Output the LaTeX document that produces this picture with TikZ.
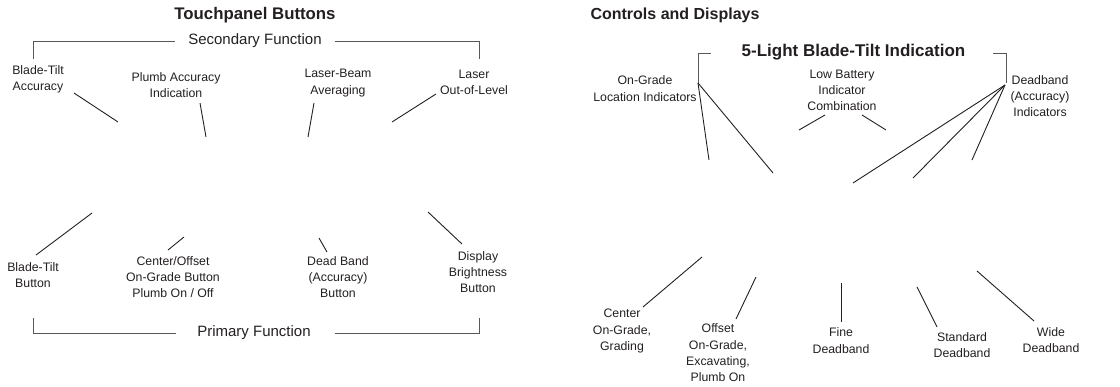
\documentclass[tikz,border=0pt]{standalone}
\usepackage{fontspec}
\setmainfont{Liberation Sans}
\definecolor{ink}{HTML}{231F20}
\begin{document}
\begin{tikzpicture}[x=1pt,y=-1pt,
  lbl/.style={font=\fontsize{12.3}{16.3}\selectfont, align=center, inner sep=0pt, text=ink},
  hdr/.style={font=\fontsize{16}{19}\selectfont\bfseries, inner sep=0pt, text=ink},
  tphdr/.style={font=\fontsize{16.8}{19}\selectfont\bfseries, inner sep=0pt, text=ink},
  bighdr/.style={font=\fontsize{17}{20}\selectfont\bfseries, inner sep=0pt, text=ink},
  fn/.style={font=\fontsize{15}{18}\selectfont, inner sep=0pt, text=ink},
  ln/.style={draw=ink, line width=0.9pt},
  br/.style={draw=ink!75, line width=1pt}]
\useasboundingbox (0,0) rectangle (1120,386);

% ---------- Left: Touchpanel Buttons ----------
\node[tphdr] (tpb) at (255,15) {Touchpanel Buttons};
\node[fn] (sec) at (255,41) {Secondary Function};
\coordinate (secL) at (33,59);
\coordinate (secR) at (479,59);
\draw[br] (secL) -- (secL |- sec) -- ([xshift=-13pt]sec.west);
\draw[br] ([xshift=13pt]sec.east) -- (secR |- sec) -- (secR);

\node[lbl] (btacc) at (38,79) {Blade-Tilt\\Accuracy};
\coordinate (btaccA) at (74,93); \coordinate (btaccB) at (118,122);
\draw[ln] (btaccA) -- (btaccB);

\node[lbl] (pai) at (176,85) {Plumb Accuracy\\Indication};
\coordinate (paiA) at (200,103); \coordinate (paiB) at (206,137);
\draw[ln] (paiA) -- (paiB);

\node[lbl] (lba) at (338,83) {Laser-Beam\\Averaging};
\coordinate (lbaA) at (314,103); \coordinate (lbaB) at (308,137);
\draw[ln] (lbaA) -- (lbaB);

\node[lbl] (lol) at (474,82.5) {Laser\\Out-of-Level};
\coordinate (lolA) at (436,94); \coordinate (lolB) at (392,122);
\draw[ln] (lolA) -- (lolB);

\node[lbl] (btb) at (33,275) {Blade-Tilt\\Button};
\coordinate (btbA) at (36,255); \coordinate (btbB) at (92,213);
\draw[ln] (btbA) -- (btbB);

\node[lbl] (cob) at (173,277) {Center/Offset\\On-Grade Button\\Plumb On / Off};
\coordinate (cobA) at (168,250); \coordinate (cobB) at (184,237);
\draw[ln] (cobA) -- (cobB);

\node[lbl] (dbb) at (338,277) {Dead Band\\(Accuracy)\\Button};
\coordinate (dbbA) at (327,252); \coordinate (dbbB) at (319,238);
\draw[ln] (dbbA) -- (dbbB);

\node[lbl] (dbr) at (478,272) {Display\\Brightness\\Button};
\coordinate (dbrA) at (462,244); \coordinate (dbrB) at (428,212);
\draw[ln] (dbrA) -- (dbrB);

\node[fn] (prim) at (254,333) {Primary Function};
\coordinate (primL) at (33,318);
\coordinate (primR) at (479,318);
\draw[br] (primL) -- (primL |- prim) -- (176,333);
\draw[br] (335,333) -- (primR |- prim) -- (primR);

% ---------- Right: Controls and Displays ----------
\node[hdr] (cad) at (675,15) {Controls and Displays};
\node[bighdr] (five) at (853.5,52) {5-Light Blade-Tilt Indication};
\coordinate (fiveL) at (698,83);
\coordinate (fiveR) at (1006,83);
\draw[br] (fiveL) -- (698,53) -- (711,53);
\draw[br] (993,53) -- (1006,53) -- (fiveR);

\node[lbl] (ogl) at (645,88.5) {On-Grade\\Location Indicators};
\coordinate (oglA) at (709,160); \coordinate (oglB) at (773,173);
\draw[ln] (fiveL) -- (oglA);
\draw[ln] (fiveL) -- (oglB);

\node[lbl] (lbi) at (842,90.5) {Low Battery\\Indicator\\Combination};
\coordinate (lbiA) at (825,115); \coordinate (lbiB) at (799,130);
\coordinate (lbiC) at (862,115); \coordinate (lbiD) at (886,130);
\draw[ln] (lbiA) -- (lbiB);
\draw[ln] (lbiC) -- (lbiD);

\node[lbl] (dai) at (1040,96) {Deadband\\(Accuracy)\\Indicators};
\coordinate (daiO) at (1005,85);
\coordinate (daiA) at (853,183); \coordinate (daiB) at (913,178); \coordinate (daiC) at (972,160);
\draw[ln] (daiO) -- (daiA);
\draw[ln] (daiO) -- (daiB);
\draw[ln] (daiO) -- (daiC);

\node[lbl] (cog) at (622,331) {Center\\On-Grade,\\Grading};
\coordinate (cogA) at (643,307); \coordinate (cogB) at (702,257);
\draw[ln] (cogA) -- (cogB);

\node[lbl] (oog) at (718,353) {Offset\\On-Grade,\\Excavating,\\Plumb On};
\coordinate (oogA) at (736,319); \coordinate (oogB) at (756,277);
\draw[ln] (oogA) -- (oogB);

\node[lbl] (fdb) at (841,340.5) {Fine\\Deadband};
\coordinate (fdbA) at (841,322); \coordinate (fdbB) at (841,283);
\draw[ln] (fdbA) -- (fdbB);

\node[lbl] (sdb) at (962,345) {Standard\\Deadband};
\coordinate (sdbA) at (937,327); \coordinate (sdbB) at (917,287);
\draw[ln] (sdbA) -- (sdbB);

\node[lbl] (wdb) at (1051,340) {Wide\\Deadband};
\coordinate (wdbA) at (1034,321); \coordinate (wdbB) at (977,271);
\draw[ln] (wdbA) -- (wdbB);
\end{tikzpicture}
\end{document}
